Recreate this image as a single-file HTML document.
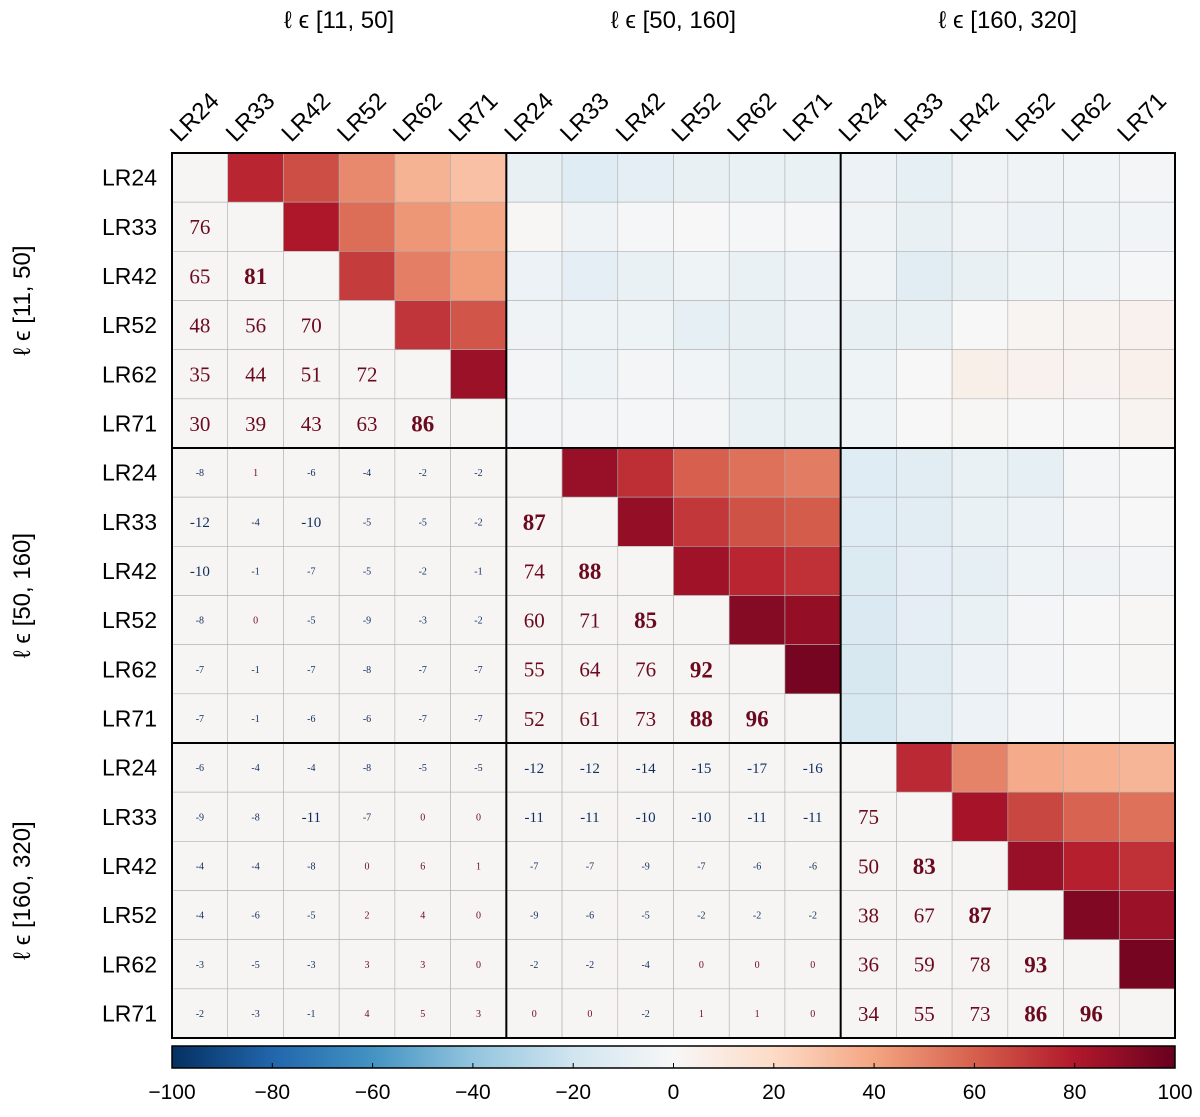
<!DOCTYPE html>
<html><head><meta charset="utf-8"><style>
body{margin:0;background:#fff;}
svg text{font-family:"Liberation Sans",sans-serif;}
</style></head><body>
<svg id="chart" width="1200" height="1112" xmlns="http://www.w3.org/2000/svg"></svg>
<script>
const labels=["LR24","LR33","LR42","LR52","LR62","LR71"];
const blockTitles=["ℓ ϵ [11, 50]","ℓ ϵ [50, 160]","ℓ ϵ [160, 320]"];
const lower=[
[],
[76],
[65,81],
[48,56,70],
[35,44,51,72],
[30,39,43,63,86],
[-8,1,-6,-4,-2,-2],
[-12,-4,-10,-5,-5,-2,87],
[-10,-1,-7,-5,-2,-1,74,88],
[-8,0,-5,-9,-3,-2,60,71,85],
[-7,-1,-7,-8,-7,-7,55,64,76,92],
[-7,-1,-6,-6,-7,-7,52,61,73,88,96],
[-6,-4,-4,-8,-5,-5,-12,-12,-14,-15,-17,-16],
[-9,-8,-11,-7,0,0,-11,-11,-10,-10,-11,-11,75],
[-4,-4,-8,0,6,1,-7,-7,-9,-7,-6,-6,50,83],
[-4,-6,-5,2,4,0,-9,-6,-5,-2,-2,-2,38,67,87],
[-3,-5,-3,3,3,0,-2,-2,-4,0,0,0,36,59,78,93],
[-2,-3,-1,4,5,3,0,0,-2,1,1,0,34,55,73,86,96]
];
const cbTicks=[-100,-80,-60,-40,-20,0,20,40,60,80,100];
const stops=["#053061","#2166ac","#4393c3","#92c5de","#d1e5f0","#f7f7f7","#fddbc7","#f4a582","#d6604d","#b2182b","#67001f"];

const svg=document.getElementById('chart');
const NS="http://www.w3.org/2000/svg";
function mk(t,a,txt){const e=document.createElementNS(NS,t);for(const k in a)e.setAttribute(k,a[k]);if(txt!==undefined)e.textContent=txt;svg.appendChild(e);return e;}
const X0=172,X1=1175,Y0=153,Y1=1038,N=18;
const cw=(X1-X0)/N,ch=(Y1-Y0)/N;
const xs=c=>X0+c*cw, ys=r=>Y0+r*ch;
function hex(h){return [1,3,5].map(i=>parseInt(h.substr(i,2),16));}
function color(v){const t=(v+100)/200*10;const i=Math.max(0,Math.min(9,Math.floor(t)));const f=t-i;const a=hex(stops[i]),b=hex(stops[i+1]);return 'rgb('+a.map((x,k)=>Math.round(x+(b[k]-x)*f)).join(',')+')';}
function val(r,c){if(r===c)return 0;return r>c?lower[r][c]:lower[c][r];}

for(let r=0;r<N;r++)for(let c=0;c<N;c++){
  const v=val(r,c);
  const fill=(r>=c)?'#f7f4f4':color(v);
  const e=mk('rect',{x:xs(c),y:ys(r),width:cw,height:ch,fill:fill,stroke:'#b0b0b0','stroke-width':0.6});
  
  
  if(r>c){
    const a=Math.abs(v);
    const fs=a<10?10:a<30?15:(v>=80?23:21);
    const t=mk('text',{x:xs(c)+cw/2,y:ys(r)+ch/2+fs*0.35,'text-anchor':'middle','font-size':fs,fill:v<0?'#0d2f5e':'#6b0a1e','font-weight':v>=80?'bold':'normal',style:'font-family:"Liberation Serif",serif'},String(v));
    
    
  }
}
[6,12].forEach(k=>{
  let l=mk('line',{x1:xs(k),x2:xs(k),y1:Y0,y2:Y1,stroke:'#000','stroke-width':2});
  
  l=mk('line',{x1:X0,x2:X1,y1:ys(k),y2:ys(k),stroke:'#000','stroke-width':2});
  
});
let b=mk('rect',{x:X0,y:Y0,width:X1-X0,height:Y1-Y0,fill:'none',stroke:'#000','stroke-width':2});

for(let i=0;i<N;i++){
  const lab=labels[i%6];
  let t=mk('text',{x:157,y:ys(i)+ch/2+8,'text-anchor':'end','font-size':23,fill:'#000'},lab);
  
  const cx=xs(i)+cw/2-20, cy=143;
  t=mk('text',{x:cx,y:cy,'font-size':24,fill:'#000',transform:'rotate(-45 '+cx+' '+cy+')'},lab);
  
}
for(let k=0;k<3;k++){
  const cx=xs(k*6+3);
  let t=mk('text',{x:cx,y:28,'text-anchor':'middle','font-size':24,fill:'#000'},blockTitles[k]);
  
  const cy=ys(k*6+3);
  t=mk('text',{x:30,y:cy,'text-anchor':'middle','font-size':24,fill:'#000',transform:'rotate(-90 30 '+cy+')'},blockTitles[k]);
  
}
const defs=mk('defs',{});
const g=document.createElementNS(NS,'linearGradient');g.setAttribute('id','cb');defs.appendChild(g);
stops.forEach((s,i)=>{const st=document.createElementNS(NS,'stop');st.setAttribute('offset',(i*10)+'%');st.setAttribute('stop-color',s);g.appendChild(st);});
const CY0=1046,CY1=1068;
b=mk('rect',{x:X0,y:CY0,width:X1-X0,height:CY1-CY0,fill:'url(#cb)',stroke:'#000','stroke-width':1.5});

const cbx=v=>X0+(v+100)/200*(X1-X0);
cbTicks.forEach(v=>{
  let l=mk('line',{x1:cbx(v),x2:cbx(v),y1:CY1-5,y2:CY1,stroke:'#000','stroke-width':1});
  
  let t=mk('text',{x:cbx(v),y:1099,'text-anchor':'middle','font-size':21,fill:'#000'},String(v).replace('-','−'));
  
});
</script>
</body></html>
